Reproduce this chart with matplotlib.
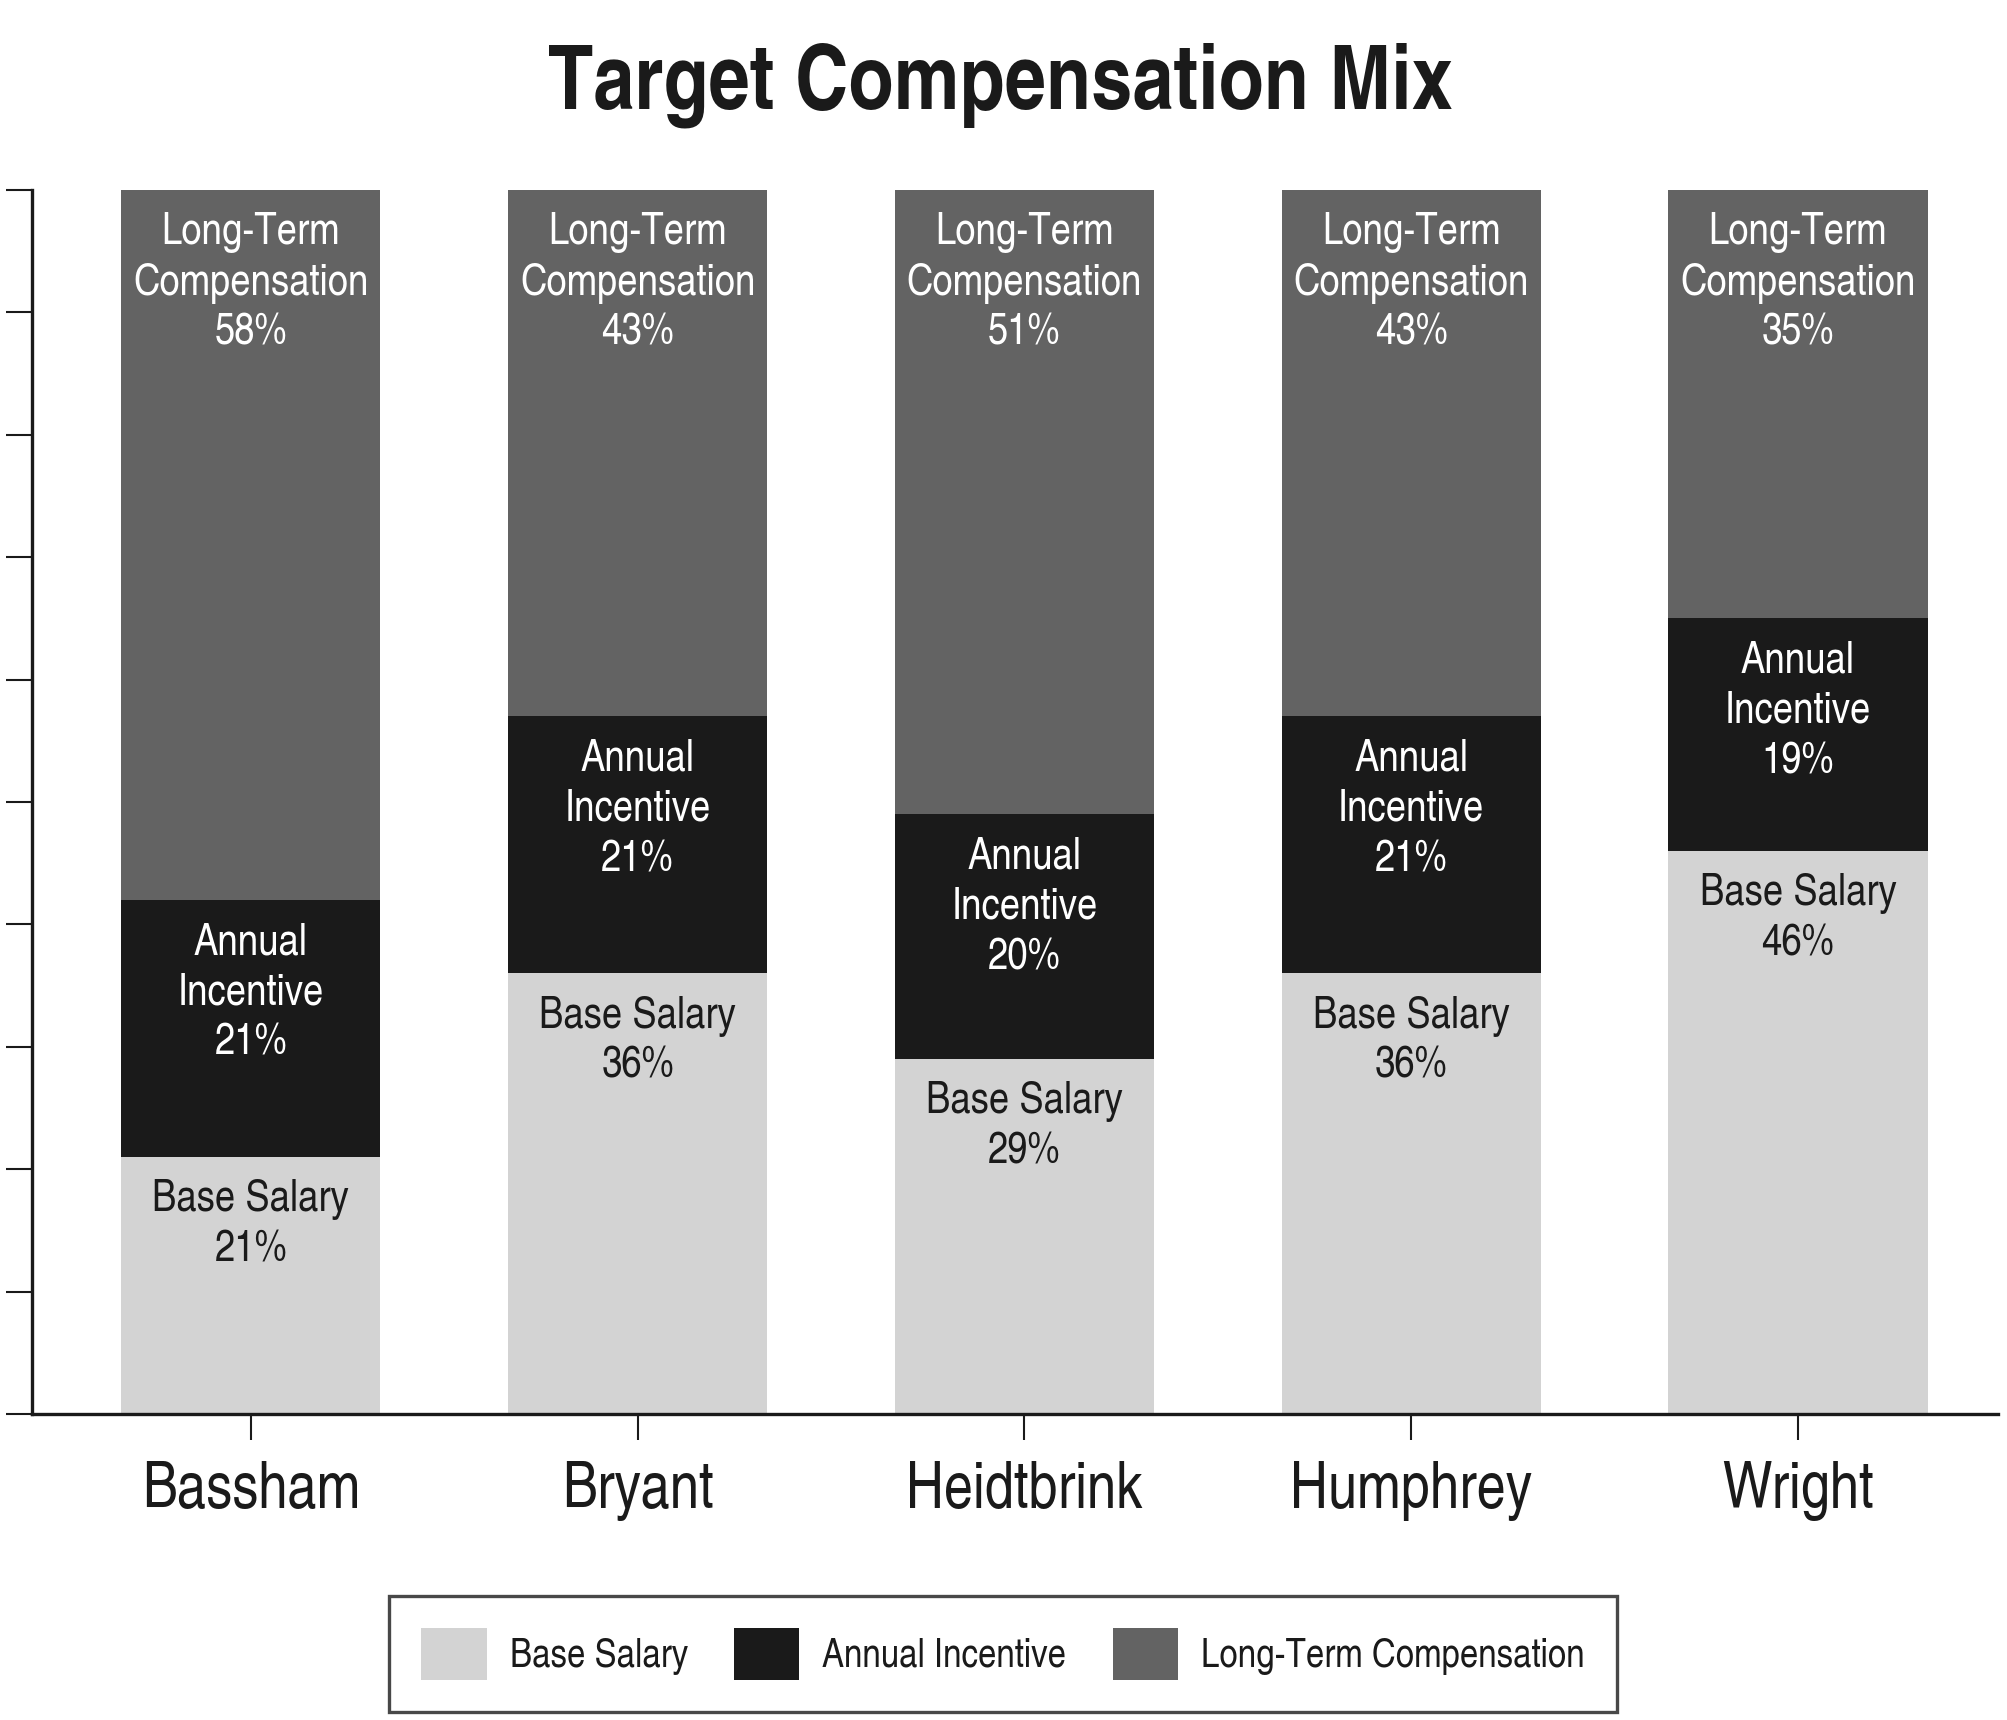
import matplotlib
matplotlib.use("Agg")
import matplotlib.pyplot as plt
from matplotlib.patches import Patch
import numpy as np

FONT = ['TeX Gyre Heros Cn', 'Roboto Condensed', 'Liberation Sans', 'DejaVu Sans']
plt.rcParams['font.family'] = FONT

categories = ["Bassham", "Bryant", "Heidtbrink", "Humphrey", "Wright"]
base_salary = [21, 36, 29, 36, 46]
annual_incentive = [21, 21, 20, 21, 19]
long_term = [58, 43, 51, 43, 35]
series_names = ["Base Salary", "Annual Incentive", "Long-Term Compensation"]
label_names = ["Base Salary", "Annual\nIncentive", "Long-Term\nCompensation"]
colors = ["#d3d3d3", "#1a1a1a", "#636363"]
text_colors = ["#1a1a1a", "white", "white"]

fig = plt.figure(figsize=(20.08, 17.2), dpi=100)
ax = fig.add_axes([0.0159, 0.1779, 0.9791, 0.7116])

x = np.arange(len(categories))
width = 0.67
series = [base_salary, annual_incentive, long_term]
bottom = np.zeros(len(categories))
for vals, col, tcol, lname in zip(series, colors, text_colors, label_names):
    vals = np.array(vals, dtype=float)
    ax.bar(x, vals, width, bottom=bottom, color=col, edgecolor='none')
    for xi, v, b in zip(x, vals, bottom):
        ax.annotate(f"{lname}\n{int(v)}%", xy=(xi, b + v), xytext=(0, -16),
                    textcoords='offset points', ha='center', va='top',
                    fontsize=32, color=tcol, linespacing=1.29)
    bottom += vals

ax.set_xlim(-0.566, 4.517)
ax.set_ylim(0, 100)
ax.set_yticks(np.arange(0, 101, 10))
ax.set_yticklabels([])
ax.set_xticks(x)
ax.set_xticklabels(categories, fontsize=46, color="#1a1a1a")
ax.tick_params(axis='y', direction='out', length=19, width=1.5, color="#1a1a1a")
ax.tick_params(axis='x', direction='out', length=19, width=1.5, color="#1a1a1a", pad=15)
for s in ['top', 'right']:
    ax.spines[s].set_visible(False)
for s in ['left', 'bottom']:
    ax.spines[s].set_linewidth(2.4)
    ax.spines[s].set_color("#1a1a1a")

fig.text(0.498, 1 - 108 / 1720, "Target Compensation Mix", ha='center', va='baseline',
         fontsize=65, fontweight='bold', color="#1a1a1a")

handles = [Patch(facecolor=c, edgecolor='none') for c in colors]
leg = fig.legend(handles, series_names, loc='center', bbox_to_anchor=(0.4995, 0.0385),
                 ncol=3, fontsize=29, frameon=True, fancybox=False,
                 edgecolor="#1a1a1a", handlelength=1.62, handleheight=1.59,
                 handletextpad=0.57, columnspacing=1.15, borderpad=0.8)
leg.get_frame().set_linewidth(2.4)
for t in leg.get_texts():
    t.set_color("#1a1a1a")

fig.savefig("out.png", dpi=100)
